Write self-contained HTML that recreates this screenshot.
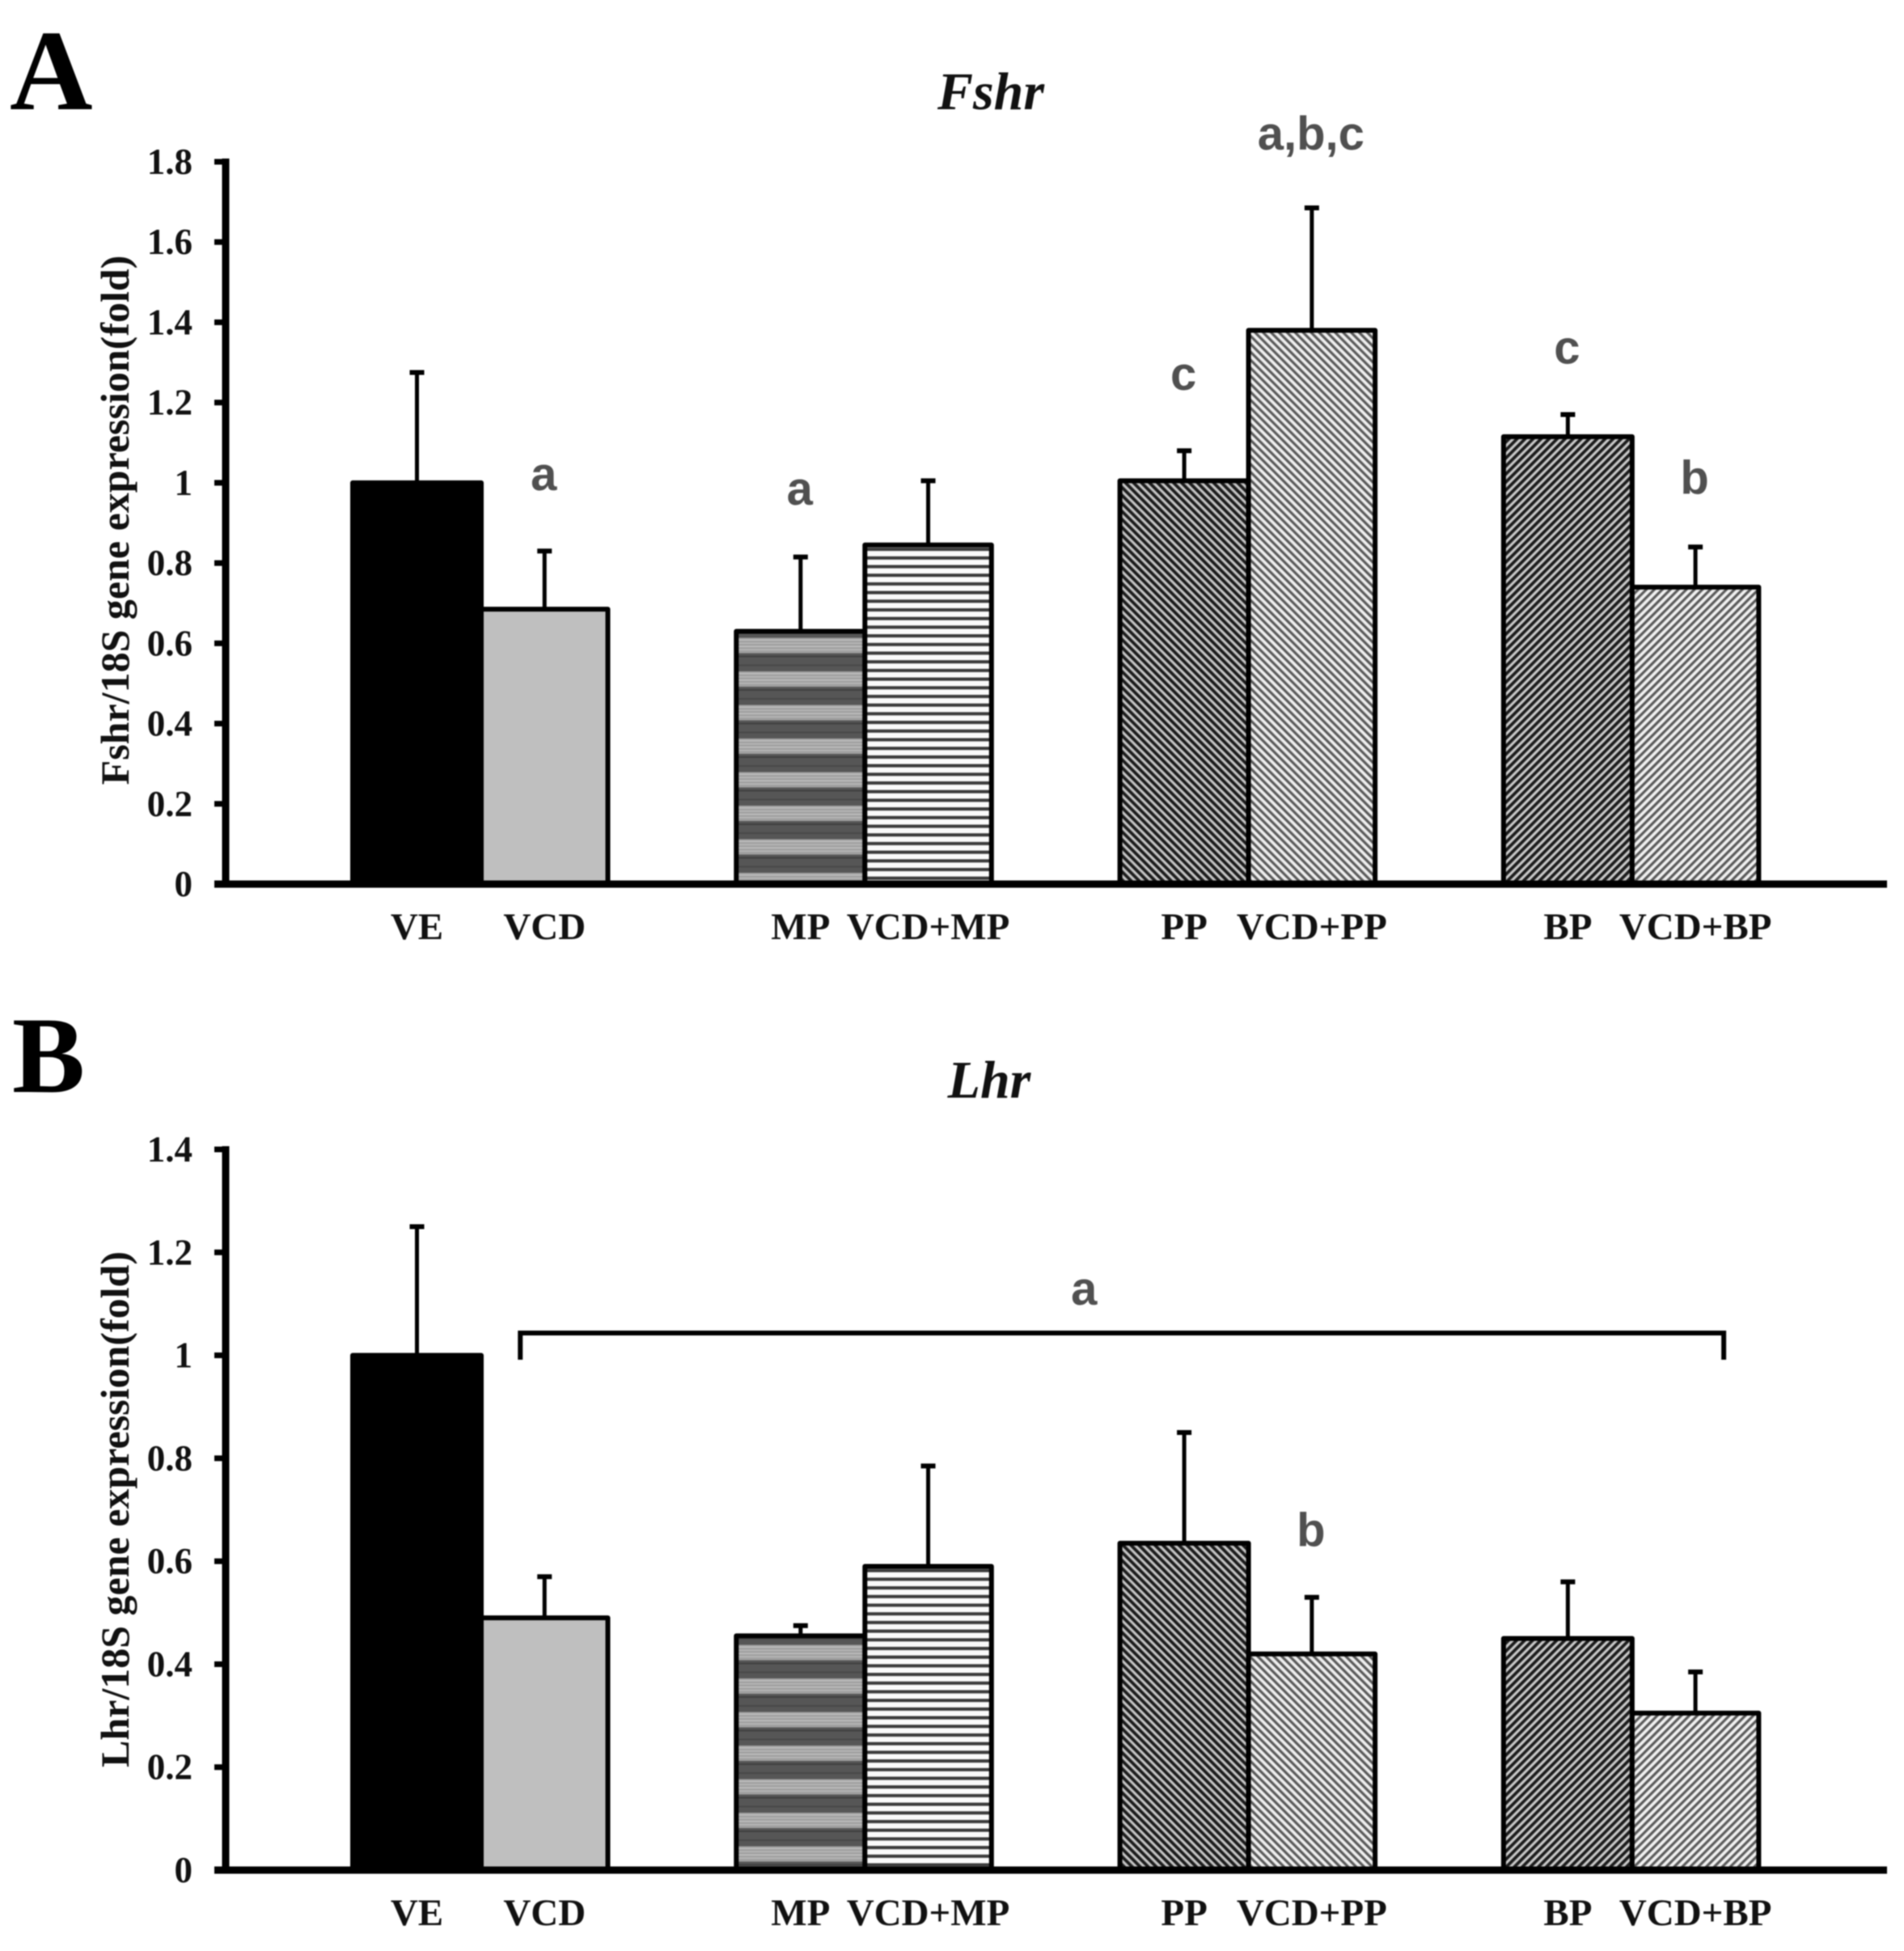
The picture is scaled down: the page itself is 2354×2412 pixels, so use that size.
<!DOCTYPE html>
<html lang="en">
<head>
<meta charset="utf-8">
<title>Fshr and Lhr gene expression</title>
<style>
html,body{margin:0;padding:0;background:#fff;width:2354px;height:2412px;overflow:hidden}
svg{display:block;filter:blur(0.8px)}
.tick{font:bold 45px "Liberation Serif",serif;fill:#111}
.cat{font:bold 47px "Liberation Serif",serif;fill:#111}
.ytitle{font:bold 50px "Liberation Serif",serif;fill:#111}
.title{font:italic bold 66px "Liberation Serif",serif;fill:#111}
.letter{font:bold 142px "Liberation Serif",serif;fill:#000}
.letter-b{font:bold 135px "Liberation Serif",serif;fill:#000}
.sig{font:bold 58px "Liberation Sans",sans-serif;fill:#505050}
</style>
</head>
<body>
<svg id="figure" xmlns="http://www.w3.org/2000/svg" width="2354" height="2412" viewBox="0 0 2354 2412">
  <defs>
    <pattern id="fill-mp" patternUnits="userSpaceOnUse" width="40" height="41.5">
      <rect width="40" height="41.5" fill="#a0a0a0"/>
      <rect y="2" width="40" height="1.5" fill="#c0c0c0"/>
      <rect y="6" width="40" height="1.5" fill="#b8b8b8"/>
      <rect y="10" width="40" height="1.5" fill="#c0c0c0"/>
      <rect y="14" width="40" height="1.5" fill="#b8b8b8"/>
      <rect y="19" width="40" height="22.5" fill="#565656"/>
      <rect y="22" width="40" height="2" fill="#404040"/>
      <rect y="33" width="40" height="2" fill="#484848"/>
    </pattern>
    <pattern id="fill-vcd-mp" patternUnits="userSpaceOnUse" width="40" height="10.7">
      <rect width="40" height="10.7" fill="#fafafa"/>
      <rect y="3" width="40" height="4" fill="#3a3a3a"/>
    </pattern>
    <pattern id="fill-pp" patternUnits="userSpaceOnUse" width="7" height="7" patternTransform="rotate(-45)">
      <rect width="7" height="7" fill="#c4c4c4"/>
      <rect width="3.8" height="7" fill="#1c1c1c"/>
    </pattern>
    <pattern id="fill-vcd-pp" patternUnits="userSpaceOnUse" width="7" height="7" patternTransform="rotate(-45)">
      <rect width="7" height="7" fill="#eeeeee"/>
      <rect width="3.2" height="7" fill="#5a5a5a"/>
    </pattern>
    <pattern id="fill-bp" patternUnits="userSpaceOnUse" width="7" height="7" patternTransform="rotate(45)">
      <rect width="7" height="7" fill="#c8c8c8"/>
      <rect width="3.8" height="7" fill="#1c1c1c"/>
    </pattern>
    <pattern id="fill-vcd-bp" patternUnits="userSpaceOnUse" width="7" height="7" patternTransform="rotate(45)">
      <rect width="7" height="7" fill="#f0f0f0"/>
      <rect width="3.2" height="7" fill="#5a5a5a"/>
    </pattern>
  </defs>

  <text class="letter" x="12" y="135">A</text>
  <text class="title" x="1225" y="135" text-anchor="middle">Fshr</text>
  <text class="ytitle" transform="translate(159 643) rotate(-90)" text-anchor="middle">Fshr/18S gene expression(fold)</text>
  <g id="panel-a"></g>

  <text class="letter-b" x="15" y="1350">B</text>
  <text class="title" x="1223" y="1357" text-anchor="middle">Lhr</text>
  <text class="ytitle" transform="translate(159 1866) rotate(-90)" text-anchor="middle">Lhr/18S gene expression(fold)</text>
  <g id="panel-b"></g>
</svg>

<script>
var categories = ['VE', 'VCD', 'MP', 'VCD+MP', 'PP', 'VCD+PP', 'BP', 'VCD+BP'];
var fshrMeans = [1.0, 0.685, 0.63, 0.845, 1.005, 1.38, 1.115, 0.74];
var fshrErrorTops = [1.275, 0.83, 0.815, 1.005, 1.08, 1.685, 1.17, 0.84];
var fshrSigLabels = ['', 'a', 'a', '', 'c', 'a,b,c', 'c', 'b'];
var fshrSigHeights = [0, 0.982, 0.945, 0, 1.232, 1.83, 1.297, 0.973];
var fshrTickLabels = ['0', '0.2', '0.4', '0.6', '0.8', '1', '1.2', '1.4', '1.6', '1.8'];
var lhrMeans = [1.0, 0.49, 0.455, 0.59, 0.635, 0.42, 0.45, 0.305];
var lhrErrorTops = [1.25, 0.57, 0.475, 0.785, 0.85, 0.53, 0.56, 0.385];
var lhrSigLabels = ['', '', '', '', '', 'b', '', ''];
var lhrSigHeights = [0, 0, 0, 0, 0, 0.629, 0, 0];
var lhrTickLabels = ['0', '0.2', '0.4', '0.6', '0.8', '1', '1.2', '1.4'];
var lhrBracketLabel = 'a';
var lhrBracketValue = 1.0433;
var lhrBracketTickValue = 0.9915;

var NS = 'http://www.w3.org/2000/svg';
var fills = ['#000', '#bfbfbf', 'url(#fill-mp)', 'url(#fill-vcd-mp)', 'url(#fill-pp)', 'url(#fill-vcd-pp)', 'url(#fill-bp)', 'url(#fill-vcd-bp)'];

function make(tag, attrs, parent, text) {
  var el = document.createElementNS(NS, tag);
  for (var k in attrs) { el.setAttribute(k, attrs[k]); }
  if (text !== undefined) { el.textContent = text; }
  parent.appendChild(el);
  return el;
}

function barLeft(i) {
  return 436 + Math.floor(i / 2) * 474.3 + (i % 2) * 159;
}
function barWidth(i) {
  return i % 2 ? 156.5 : 159;
}
function barCenter(i) {
  return barLeft(i) + barWidth(i) / 2;
}
function makeYScale(maxValue, yZero, yTop) {
  return function (v) { return yZero - (v / maxValue) * (yZero - yTop); };
}

function drawPanel(root, prefix, means, errorTops, sigLabels, sigHeights, tickLabels, yZero, yTop, catBaseline) {
  var maxValue = parseFloat(tickLabels[tickLabels.length - 1]);
  var y = makeYScale(maxValue, yZero, yTop);

  means.forEach(function (m, i) {
    var stem = make('line', { x1: barCenter(i), x2: barCenter(i), y1: y(m), y2: y(errorTops[i]), stroke: '#000', 'stroke-width': 5 }, root);
    
    
    var cap = make('line', { x1: barCenter(i) - 9, x2: barCenter(i) + 9, y1: y(errorTops[i]), y2: y(errorTops[i]), stroke: '#000', 'stroke-width': 6 }, root);
    
    
  });

  means.forEach(function (m, i) {
    var bar = make('rect', { x: barLeft(i), y: y(m), width: barWidth(i), height: yZero - y(m), fill: fills[i], stroke: '#000', 'stroke-width': 6, 'stroke-linejoin': 'round' }, root);
    
    
  });

  var yAxis = make('line', { x1: 279, x2: 279, y1: yTop - 4, y2: yZero, stroke: '#000', 'stroke-width': 9 }, root);
  
  

  var xAxis = make('line', { x1: 265, x2: 2333, y1: yZero, y2: yZero, stroke: '#000', 'stroke-width': 9 }, root);
  
  

  tickLabels.forEach(function (label) {
    var v = parseFloat(label);
    var tick = make('line', { x1: 265, x2: 279, y1: y(v), y2: y(v), stroke: '#000', 'stroke-width': 7 }, root);
    
    
    var tl = make('text', { 'class': 'tick', x: 238, y: y(v) + 15, 'text-anchor': 'end' }, root, label);
    
    
  });

  categories.forEach(function (c, i) {
    var cl = make('text', { 'class': 'cat', x: barCenter(i), y: catBaseline, 'text-anchor': 'middle' }, root, c);
    
    
  });

  sigLabels.forEach(function (s, i) {
    if (!s) { return; }
    var sl = make('text', { 'class': 'sig', x: barCenter(i) - 1, y: y(sigHeights[i]), 'text-anchor': 'middle' }, root, s);
    
    
  });

  return y;
}

var panelA = document.getElementById('panel-a');
var panelB = document.getElementById('panel-b');

drawPanel(panelA, 'fshr', fshrMeans, fshrErrorTops, fshrSigLabels, fshrSigHeights, fshrTickLabels, 1093, 200, 1161);
var lhrY = drawPanel(panelB, 'lhr', lhrMeans, lhrErrorTops, lhrSigLabels, lhrSigHeights, lhrTickLabels, 2312, 1421, 2380);

var bracketLeft = barCenter(1) - 30;
var bracketRight = barCenter(7) + 35;
var bracket = make('path', {
  d: 'M' + bracketLeft + ' ' + lhrY(lhrBracketTickValue) + 'V' + lhrY(lhrBracketValue) + 'H' + bracketRight + 'V' + lhrY(lhrBracketTickValue),
  fill: 'none', stroke: '#000', 'stroke-width': 6
}, panelB);



var bracketText = make('text', { 'class': 'sig', x: (bracketLeft + bracketRight) / 2 - 47, y: lhrY(lhrBracketValue) - 35, 'text-anchor': 'middle' }, panelB, lhrBracketLabel);


</script>
</body>
</html>
